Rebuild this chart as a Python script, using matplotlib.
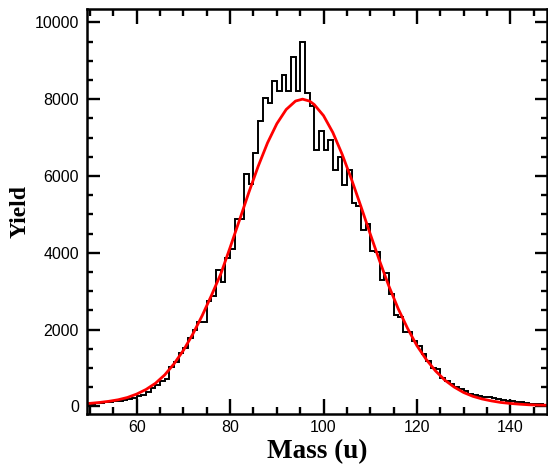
import numpy as np
import matplotlib
matplotlib.use("Agg")
import matplotlib.pyplot as plt
from matplotlib.ticker import MultipleLocator

# Histogram: bin edges (unit width) and yields
bin_edges = list(range(49, 149))
counts = [
    60, 70, 80, 90, 100, 110, 140, 150, 170, 200,      # 49-58
    220, 280, 300, 380, 470, 550, 660, 720, 1020, 1150,  # 59-68
    1400, 1530, 1790, 2000, 2190, 2190, 2730, 2860, 3560, 3230,  # 69-78
    3860, 4100, 4870, 4870, 6040, 5800, 6610, 7420, 8020, 7890,  # 79-88
    8480, 8200, 8630, 8200, 9100, 8200, 9480, 8150, 7830, 6670,  # 89-98
    7160, 6680, 6940, 6160, 6490, 5760, 6160, 5300, 5210, 4580,  # 99-108
    4750, 4040, 4030, 3280, 3460, 2930, 2390, 2330, 1930, 1930,  # 109-118
    1700, 1570, 1350, 1180, 990, 960, 730, 650, 580, 490,        # 119-128
    440, 390, 310, 290, 260, 240, 230, 210, 190, 170,            # 129-138
    150, 140, 120, 100, 80, 70, 60, 50, 40,                      # 139-147
]

# Fit curve
fit_x = [49.4, 52, 54, 56, 58, 60, 62, 64, 66, 68, 70, 72, 74, 76, 78, 80, 82, 84,
         86, 88, 90, 92, 94, 95.5, 97, 98, 100, 102, 104, 106, 108, 110, 112, 114,
         116, 118, 120, 122, 124, 126, 128, 130, 132, 134, 136, 138, 140, 142, 144,
         146, 147.8]
fit_y = [70, 100, 130, 170, 230, 320, 440, 600, 820, 1110, 1460, 1880, 2360, 2890,
         3450, 4140, 4850, 5570, 6250, 6860, 7360, 7730, 7950, 8000, 7950, 7860,
         7570, 7130, 6560, 5910, 5210, 4490, 3790, 3130, 2540, 2030, 1580, 1220,
         920, 680, 500, 360, 260, 190, 140, 100, 75, 55, 40, 32, 28]

x_ticks = [60, 80, 100, 120, 140]
y_ticks = [0, 2000, 4000, 6000, 8000, 10000]

fig = plt.figure(figsize=(5.48, 4.65), dpi=100)
ax = fig.add_axes([0.1593, 0.1097, 0.9976 - 0.1593, 0.9806 - 0.1097])

ax.stairs(counts, bin_edges, color="black", linewidth=1.4, baseline=None)
ax.plot(fit_x, fit_y, color="#ff0000", linewidth=2.0)

ax.set_xlim(49.4, 147.8)
ax.set_ylim(-200, 10347)
ax.set_xticks(x_ticks)
ax.set_yticks(y_ticks)
ax.xaxis.set_minor_locator(MultipleLocator(5))
ax.yaxis.set_minor_locator(MultipleLocator(500))

for s in ax.spines.values():
    s.set_linewidth(1.8)

ax.tick_params(which="both", direction="in", top=True, right=True, width=1.7)
ax.tick_params(axis="x", which="major", length=10.5, pad=4)
ax.tick_params(axis="x", which="minor", length=5)
ax.tick_params(axis="y", which="major", length=9, pad=6)
ax.tick_params(axis="y", which="minor", length=4.5)

for lab in ax.get_xticklabels() + ax.get_yticklabels():
    lab.set_family("Liberation Sans")
    lab.set_fontsize(11.5)

ax.set_xlabel("Mass (u)", family="Liberation Serif", fontweight="bold", fontsize=19.5, labelpad=3)
ax.set_ylabel("Yield", family="Liberation Serif", fontweight="bold", fontsize=17, labelpad=3)

fig.savefig("out.png", dpi=100)
